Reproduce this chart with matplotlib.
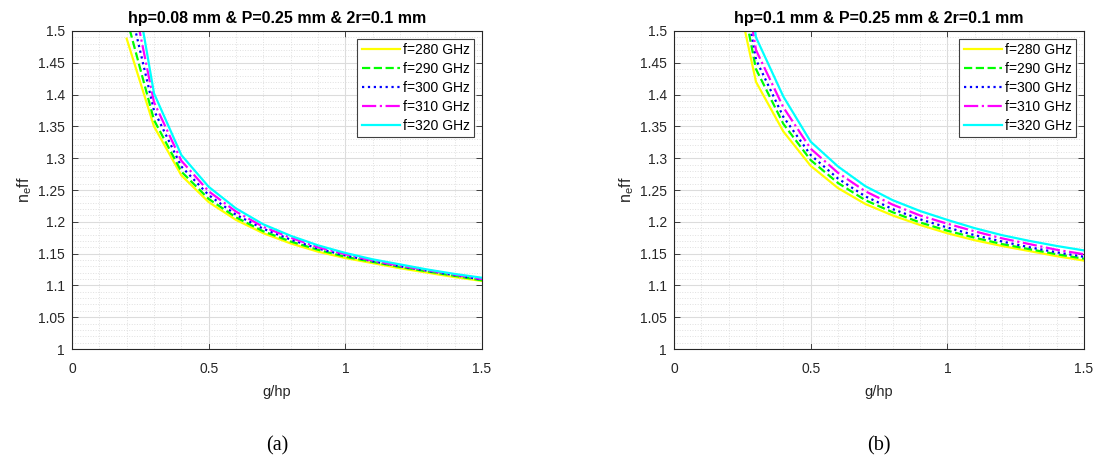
import matplotlib.pyplot as plt
from matplotlib.ticker import MultipleLocator

plt.rcParams['font.family'] = ['Liberation Sans', 'DejaVu Sans']

g_hp = [0.2, 0.3, 0.4, 0.5, 0.6, 0.7, 0.8, 0.9, 1.0, 1.1, 1.2, 1.3, 1.4, 1.5]
freqs = ["f=280 GHz", "f=290 GHz", "f=300 GHz", "f=310 GHz", "f=320 GHz"]

# (a) hp=0.08 mm
neff_a_280 = [1.488, 1.350, 1.273, 1.231, 1.203, 1.182, 1.166, 1.153, 1.143, 1.135, 1.127, 1.120, 1.113, 1.107]
neff_a_290 = [1.520, 1.360, 1.279, 1.236, 1.207, 1.185, 1.169, 1.156, 1.145, 1.137, 1.129, 1.122, 1.115, 1.108]
neff_a_300 = [1.560, 1.375, 1.287, 1.242, 1.211, 1.189, 1.172, 1.158, 1.147, 1.138, 1.130, 1.123, 1.116, 1.109]
neff_a_310 = [1.600, 1.388, 1.296, 1.248, 1.216, 1.192, 1.175, 1.160, 1.149, 1.139, 1.131, 1.124, 1.117, 1.110]
neff_a_320 = [1.650, 1.402, 1.305, 1.255, 1.221, 1.196, 1.178, 1.163, 1.151, 1.141, 1.133, 1.125, 1.118, 1.112]

# (b) hp=0.1 mm
neff_b_280 = [1.620, 1.420, 1.342, 1.288, 1.253, 1.228, 1.210, 1.195, 1.182, 1.171, 1.162, 1.154, 1.146, 1.139]
neff_b_290 = [1.660, 1.440, 1.354, 1.297, 1.261, 1.234, 1.215, 1.199, 1.186, 1.175, 1.165, 1.157, 1.149, 1.142]
neff_b_300 = [1.700, 1.455, 1.365, 1.305, 1.268, 1.240, 1.220, 1.204, 1.191, 1.179, 1.169, 1.160, 1.152, 1.145]
neff_b_310 = [1.740, 1.470, 1.380, 1.315, 1.277, 1.248, 1.227, 1.210, 1.197, 1.185, 1.174, 1.165, 1.156, 1.149]
neff_b_320 = [1.780, 1.490, 1.397, 1.326, 1.287, 1.256, 1.234, 1.217, 1.203, 1.190, 1.179, 1.170, 1.162, 1.155]

titles = ["hp=0.08 mm & P=0.25 mm & 2r=0.1 mm", "hp=0.1 mm & P=0.25 mm & 2r=0.1 mm"]
captions = ["(a)", "(b)"]
colors = ["#ffff00", "#00ff00", "#0000ff", "#ff00ff", "#00ffff"]
styles = ["-", "--", ":", "-.", "-"]

panels = [
    [neff_a_280, neff_a_290, neff_a_300, neff_a_310, neff_a_320],
    [neff_b_280, neff_b_290, neff_b_300, neff_b_310, neff_b_320],
]

fig = plt.figure(figsize=(10.98, 4.61), dpi=100)
lefts = [72 / 1098, 674 / 1098]
for i, series in enumerate(panels):
    ax = fig.add_axes([lefts[i], 1 - 349 / 461, 410 / 1098, 318 / 461])
    for ys, c, ls, lab in zip(series, colors, styles, freqs):
        ax.plot(g_hp, ys, color=c, linestyle=ls, linewidth=1.6, label=lab)
    ax.set_xlim(0, 1.5)
    ax.set_ylim(1, 1.5)
    ax.xaxis.set_major_locator(MultipleLocator(0.5))
    ax.xaxis.set_minor_locator(MultipleLocator(0.1))
    ax.yaxis.set_major_locator(MultipleLocator(0.05))
    ax.yaxis.set_minor_locator(MultipleLocator(0.01))
    ax.set_yticks([1, 1.05, 1.1, 1.15, 1.2, 1.25, 1.3, 1.35, 1.4, 1.45, 1.5])
    ax.set_yticklabels(["1", "1.05", "1.1", "1.15", "1.2", "1.25", "1.3", "1.35", "1.4", "1.45", "1.5"])
    ax.set_xticks([0, 0.5, 1, 1.5])
    ax.set_xticklabels(["0", "0.5", "1", "1.5"])
    ax.grid(which="major", color="#dcdcdc", linewidth=0.8)
    ax.grid(which="minor", color="#e0e0e0", linestyle=":", linewidth=0.7)
    ax.set_axisbelow(True)
    ax.tick_params(which="major", direction="in", top=True, right=True, length=4,
                   labelsize=10, colors="#262626", width=0.6)
    ax.tick_params(axis="x", which="major", pad=9)
    ax.tick_params(axis="y", which="major", pad=5)
    ax.tick_params(which="minor", length=0)
    for sp in ax.spines.values():
        sp.set_color("#262626")
        sp.set_linewidth(0.8)
    ax.set_title(titles[i], fontsize=11.5, fontweight="bold", pad=6)
    ax.set_xlabel("g/hp", fontsize=10.5, color="#262626", labelpad=7)
    ax.set_ylabel(r"$\mathregular{n_e}$ff", fontsize=11.5, color="#262626", labelpad=3)
    leg = ax.legend(loc="upper right", fontsize=10, frameon=True, fancybox=False,
                    handlelength=2.8, borderpad=0.3, labelspacing=0.36,
                    borderaxespad=0.55, handletextpad=0.2, framealpha=1)
    leg.get_frame().set_edgecolor("#404040")
    leg.get_frame().set_linewidth(0.8)
    fig.text(lefts[i] + 205 / 1098, 1 - 446 / 461, captions[i], fontsize=14.5,
             family="Liberation Serif", ha="center", va="center")

fig.savefig("out.png", dpi=100)
